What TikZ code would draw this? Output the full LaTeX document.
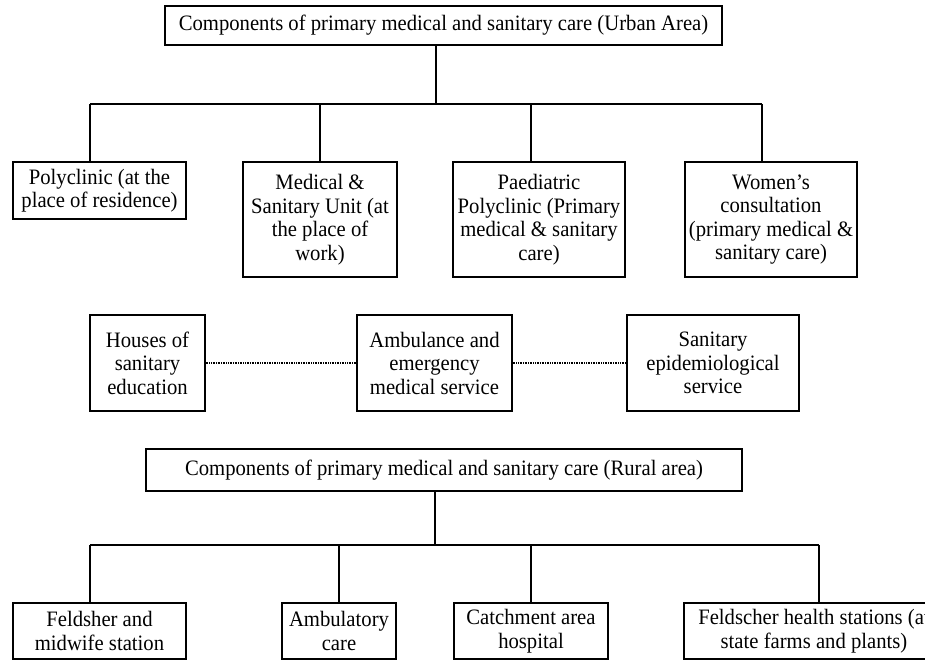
\documentclass[tikz,border=0pt]{standalone}
\usepackage{fontspec}
\setmainfont[FakeStretch=0.94]{Liberation Serif}
\begin{document}
\begin{tikzpicture}[x=1pt,y=-1pt,
  box/.style={draw,line width=1.5pt,inner sep=0pt,align=center,
    font=\fontsize{22}{23.5}\selectfont},
  link/.style={line width=1.2pt},
  dotlink/.style={line width=1.5pt,dash pattern=on 1pt off 0.7pt}]
\useasboundingbox (0,0) rectangle (925,661);
\clip (0,0) rectangle (925,661);
% urban
\node[box,minimum width=557pt,minimum height=39pt] (urban) at (443.5,25.5)
  {Components of primary medical and sanitary care (Urban Area)};
\node[box,minimum width=173pt,minimum height=57pt] (poly) at (99.5,190.5)
  {Polyclinic (at the\\place of residence)};
\node[box,minimum width=154pt,minimum height=115pt] (med) at (320,219.5)
  {Medical \&\\Sanitary Unit (at\\the place of\\work)};
\node[box,minimum width=172pt,minimum height=115pt] (paed) at (539,219.5)
  {Paediatric\\Polyclinic (Primary\\medical \& sanitary\\care)};
\node[box,minimum width=172pt,minimum height=115pt] (wom) at (771,219.5)
  {Women’s\\consultation\\(primary medical \&\\sanitary care)};
% middle
\node[box,minimum width=115pt,minimum height=96pt] (houses) at (147.5,363)
  {Houses of\\sanitary\\education};
\node[box,minimum width=155pt,minimum height=96pt] (amb) at (434.5,363)
  {Ambulance and\\emergency\\medical service};
\node[box,minimum width=172pt,minimum height=96pt] (sanepi) at (713,363)
  {Sanitary\\epidemiological\\service};
% rural
\node[box,minimum width=596pt,minimum height=42pt] (rural) at (444,470)
  {Components of primary medical and sanitary care (Rural area)};
\node[box,minimum width=173pt,minimum height=56pt] (feld) at (99.5,631)
  {Feldsher and\\midwife station};
\node[box,minimum width=114pt,minimum height=56pt] (ambc) at (339,631)
  {Ambulatory\\care};
\node[box,minimum width=154pt,minimum height=56pt] (catch) at (531,631)
  {Catchment area\\hospital};
\node[box,minimum width=260pt,minimum height=56pt] (feldh) at (814,631)
  {Feldscher health stations (at\\state farms and plants)};
% urban tree
\coordinate (uhub) at (436,104);
\coordinate (u1) at (90,104);
\coordinate (u2) at (320,104);
\coordinate (u3) at (531,104);
\coordinate (u4) at (762,104);
\draw[link] (uhub |- urban.south) -- (uhub);
\draw[link] (u1) -- (u4);
\draw[link] (u1) -- (u1 |- poly.north);
\draw[link] (u2) -- (u2 |- med.north);
\draw[link] (u3) -- (u3 |- paed.north);
\draw[link] (u4) -- (u4 |- wom.north);
% middle links
\draw[dotlink] (houses.east) -- (amb.west);
\draw[dotlink] (amb.east) -- (sanepi.west);
% rural tree
\coordinate (rhub) at (435,545);
\coordinate (r1) at (90,545);
\coordinate (r2) at (339,545);
\coordinate (r3) at (531,545);
\coordinate (r4) at (819,545);
\draw[link] (rhub |- rural.south) -- (rhub);
\draw[link] (r1) -- (r4);
\draw[link] (r1) -- (r1 |- feld.north);
\draw[link] (r2) -- (r2 |- ambc.north);
\draw[link] (r3) -- (r3 |- catch.north);
\draw[link] (r4) -- (r4 |- feldh.north);
\end{tikzpicture}
\end{document}
